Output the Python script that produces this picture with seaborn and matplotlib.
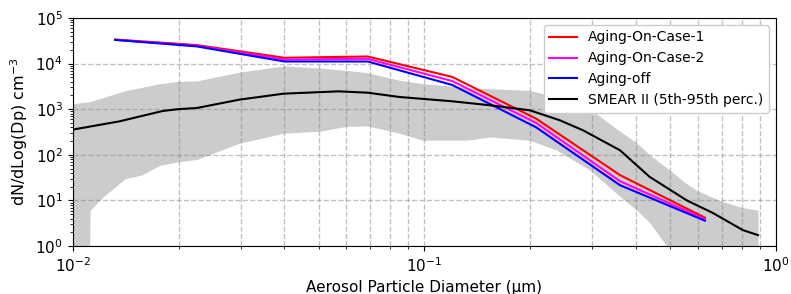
import matplotlib
matplotlib.use("Agg")
import matplotlib.pyplot as plt
import seaborn as sns
import numpy as np
import pandas as pd

# model size bins (um) and dN/dlogDp (cm-3)
model_dp = [0.0132, 0.0225, 0.040, 0.069, 0.120, 0.208, 0.360, 0.628]
aging_on_1 = [33500, 25500, 13400, 14300, 5100, 620, 36, 4.2]
aging_on_2 = [33300, 24600, 12300, 12700, 4150, 500, 26.5, 3.9]
aging_off = [33000, 23800, 11100, 11100, 3400, 400, 21.6, 3.6]

# SMEAR II observations: median
obs_dp = [0.010, 0.0136, 0.018, 0.0199, 0.0225, 0.0298, 0.0398, 0.057, 0.069,
          0.085, 0.120, 0.1535, 0.1995, 0.243, 0.2825, 0.360, 0.437, 0.558,
          0.662, 0.805, 0.889]
obs_median = [357, 543, 912, 1000, 1060, 1620, 2190, 2460, 2300,
              1850, 1490, 1220, 945, 570, 345, 126, 33, 10,
              5.3, 2.24, 1.74]

# SMEAR II 5th-95th percentile band
band_dp = [0.010, 0.0111, 0.0112, 0.0122, 0.0141, 0.0157, 0.0177, 0.0199, 0.0225,
           0.0298, 0.0398, 0.0505, 0.060, 0.069, 0.085, 0.099, 0.132, 0.1535,
           0.1995, 0.238, 0.296, 0.366, 0.403, 0.437, 0.499, 0.55, 0.593,
           0.69, 0.79, 0.889]
band_p95 = [1320, 1450, 1460, 1800, 2550, 3000, 3630, 4060, 4150,
            6500, 8850, 7960, 7100, 6300, 4300, 3640, 2960, 2810,
            2580, 1850, 1000, 300, 180, 100, 46, 25, 16.8,
            10, 7.2, 6.1]
band_p5 = [0.01, 0.01, 6.1, 12, 30, 36, 59, 70, 79,
           180, 297, 330, 420, 430, 297, 209, 209, 246,
           209, 126, 46, 11, 6, 3.3, 0.8, 0.01, 0.01,
           0.01, 0.01, 0.01]

fig, ax = plt.subplots(figsize=(7.91, 2.94), dpi=100)
fig.subplots_adjust(left=0.092, right=0.981, top=0.939, bottom=0.163)

ax.fill_between(band_dp, band_p5, band_p95, color="grey", alpha=0.4, lw=0, zorder=1)

sns.lineplot(x=model_dp, y=aging_on_1, color="red", lw=1.5, label="Aging-On-Case-1", ax=ax, zorder=3)
sns.lineplot(x=model_dp, y=aging_on_2, color="magenta", lw=1.5, label="Aging-On-Case-2", ax=ax, zorder=3)
sns.lineplot(x=model_dp, y=aging_off, color="blue", lw=1.5, label="Aging-off", ax=ax, zorder=3)
sns.lineplot(x=obs_dp, y=obs_median, color="black", lw=1.5, label="SMEAR II (5th-95th perc.)", ax=ax, zorder=3)

ax.set_xscale("log")
ax.set_yscale("log")
ax.set_xlim(1e-2, 1e0)
ax.set_ylim(1e0, 1e5)

ax.grid(which="major", axis="both", ls="--", color="0.6", lw=1.0, alpha=0.6)
ax.grid(which="minor", axis="x", ls="--", color="0.6", lw=1.0, alpha=0.6)
ax.set_axisbelow(True)

ax.tick_params(labelsize=11)
ax.set_xlabel("Aerosol Particle Diameter (µm)", fontsize=11)
ax.set_ylabel("dN/dLog(Dp) cm$^{-3}$", fontsize=11.5)

ax.legend(loc="upper right", fontsize=10, framealpha=1.0)

plt.savefig("out.png", dpi=100)
